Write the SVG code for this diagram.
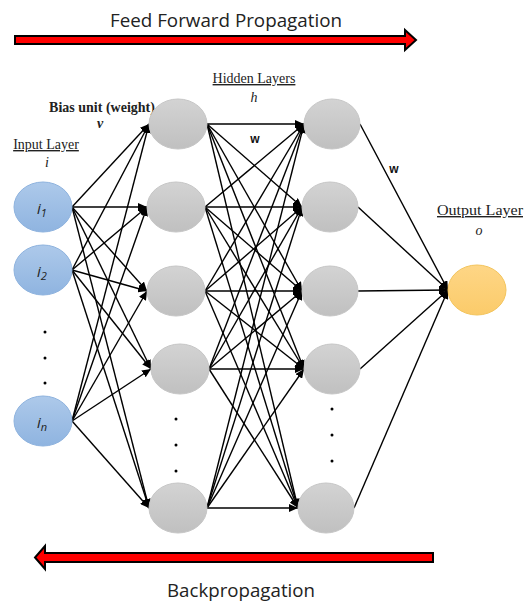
<svg xmlns="http://www.w3.org/2000/svg" width="524" height="603" viewBox="0 0 524 603">
<style>
.c{stroke:#000;stroke-width:1.4;fill:none;marker-end:url(#ah)}
.hn{fill:url(#gg);stroke:#c6c6c6;stroke-width:1}
.in{fill:url(#gb);stroke:#8db2de;stroke-width:1}
.on{fill:url(#go);stroke:#f3c45c;stroke-width:1}
.big{font-family:"Open Sans","Liberation Sans",sans-serif;font-size:18px;fill:#222}
.tm{font-family:"Liberation Serif","Times New Roman",serif;font-size:14px;fill:#222}
.ul{text-decoration:underline}
.it{font-style:italic}
.w{font-family:"Liberation Sans",Arial,sans-serif;font-weight:bold;font-size:12px;fill:#111}
.nl{font-family:"Open Sans","Liberation Sans",sans-serif;font-style:italic;font-size:15px;fill:#222}
.arr{fill:#f00;stroke:#000;stroke-width:2;stroke-linejoin:miter}
.dot{fill:#000}
</style>
<defs>
<marker id="ah" markerUnits="userSpaceOnUse" markerWidth="10" markerHeight="8" refX="9" refY="4" orient="auto">
<path d="M0,0 L9,4 L0,8 z" fill="#000"/>
</marker>
<linearGradient id="gg" x1="0" y1="0" x2="0" y2="1"><stop offset="0" stop-color="#d3d3d3"/><stop offset="1" stop-color="#c0c0c0"/></linearGradient>
<linearGradient id="gb" x1="0" y1="0" x2="0" y2="1"><stop offset="0" stop-color="#adc9ea"/><stop offset="1" stop-color="#8fb4e0"/></linearGradient>
<linearGradient id="go" x1="0" y1="0" x2="0" y2="1"><stop offset="0" stop-color="#fed686"/><stop offset="1" stop-color="#fbcb6a"/></linearGradient>
</defs>
<rect width="524" height="603" fill="#fff"/>

<g id="top-arrow">
<polygon class="arr" points="15,36 405,36 405,30 416,40 405,50 405,44 15,44"/>
<text class="big" x="226" y="27" text-anchor="middle" textLength="232" lengthAdjust="spacingAndGlyphs">Feed Forward Propagation</text>
</g>

<g id="bottom-arrow">
<polygon class="arr" points="433,553 45,553 45,546 35,557.5 45,569 45,562 433,562"/>
<text class="big" x="241" y="597" text-anchor="middle" textLength="148" lengthAdjust="spacingAndGlyphs">Backpropagation</text>
</g>

<g id="labels">
<text class="tm ul" x="254" y="83" text-anchor="middle">Hidden Layers</text>
<text class="tm it" x="254" y="102" text-anchor="middle">h</text>
<text class="tm" x="102" y="112" text-anchor="middle" font-weight="bold">Bias unit (weight)</text>
<text class="tm it" x="100" y="128" text-anchor="middle" font-weight="bold">v</text>
<text class="tm ul" x="46" y="149" text-anchor="middle">Input Layer</text>
<text class="tm it" x="47" y="167" text-anchor="middle">i</text>
<text class="tm ul" x="437" y="215" textLength="86" lengthAdjust="spacingAndGlyphs">Output  Layer</text>
<text class="tm it" x="479" y="235" text-anchor="middle">o</text>
<text class="w" x="255" y="143" text-anchor="middle">w</text>
<text class="w" x="394" y="173" text-anchor="middle">w</text>
</g>

<g id="connectors">
<line class="c" x1="72" y1="207" x2="149" y2="124"/>
<line class="c" x1="72" y1="207" x2="147" y2="207"/>
<line class="c" x1="72" y1="207" x2="147" y2="291"/>
<line class="c" x1="72" y1="207" x2="151" y2="369"/>
<line class="c" x1="72" y1="207" x2="149" y2="508"/>
<line class="c" x1="72" y1="270" x2="149" y2="124"/>
<line class="c" x1="72" y1="270" x2="147" y2="207"/>
<line class="c" x1="72" y1="270" x2="147" y2="291"/>
<line class="c" x1="72" y1="270" x2="151" y2="369"/>
<line class="c" x1="72" y1="270" x2="149" y2="508"/>
<line class="c" x1="72" y1="421" x2="149" y2="124"/>
<line class="c" x1="72" y1="421" x2="147" y2="207"/>
<line class="c" x1="72" y1="421" x2="147" y2="291"/>
<line class="c" x1="72" y1="421" x2="151" y2="369"/>
<line class="c" x1="72" y1="421" x2="149" y2="508"/>

<line class="c" x1="207" y1="124" x2="304" y2="124"/>
<line class="c" x1="207" y1="124" x2="302" y2="207"/>
<line class="c" x1="207" y1="124" x2="302" y2="291"/>
<line class="c" x1="207" y1="124" x2="304" y2="369"/>
<line class="c" x1="207" y1="124" x2="298" y2="508"/>
<line class="c" x1="205" y1="207" x2="304" y2="124"/>
<line class="c" x1="205" y1="207" x2="302" y2="207"/>
<line class="c" x1="205" y1="207" x2="302" y2="291"/>
<line class="c" x1="205" y1="207" x2="304" y2="369"/>
<line class="c" x1="205" y1="207" x2="298" y2="508"/>
<line class="c" x1="205" y1="291" x2="304" y2="124"/>
<line class="c" x1="205" y1="291" x2="302" y2="207"/>
<line class="c" x1="205" y1="291" x2="302" y2="291"/>
<line class="c" x1="205" y1="291" x2="304" y2="369"/>
<line class="c" x1="205" y1="291" x2="298" y2="508"/>
<line class="c" x1="209" y1="369" x2="304" y2="124"/>
<line class="c" x1="209" y1="369" x2="302" y2="207"/>
<line class="c" x1="209" y1="369" x2="302" y2="291"/>
<line class="c" x1="209" y1="369" x2="304" y2="369"/>
<line class="c" x1="209" y1="369" x2="298" y2="508"/>
<line class="c" x1="207" y1="508" x2="304" y2="124"/>
<line class="c" x1="207" y1="508" x2="302" y2="207"/>
<line class="c" x1="207" y1="508" x2="302" y2="291"/>
<line class="c" x1="207" y1="508" x2="304" y2="369"/>
<line class="c" x1="207" y1="508" x2="298" y2="508"/>

<line class="c" x1="360" y1="124" x2="448" y2="290"/>
<line class="c" x1="358" y1="207" x2="448" y2="290"/>
<line class="c" x1="358" y1="291" x2="448" y2="290"/>
<line class="c" x1="360" y1="369" x2="448" y2="290"/>
<line class="c" x1="354" y1="508" x2="448" y2="290"/>
</g>

<g id="input-1"><ellipse class="in" cx="43" cy="207" rx="29" ry="25"/><text class="nl" x="37" y="214">i<tspan font-size="11" dy="3">1</tspan></text></g>
<g id="input-2"><ellipse class="in" cx="43" cy="270" rx="29" ry="25"/><text class="nl" x="37" y="277">i<tspan font-size="11" dy="3">2</tspan></text></g>
<g id="input-dots"><circle class="dot" cx="45" cy="332" r="1.5"/><circle class="dot" cx="45" cy="358" r="1.5"/><circle class="dot" cx="45" cy="383" r="1.5"/></g>
<g id="input-n"><ellipse class="in" cx="43" cy="421" rx="29" ry="25"/><text class="nl" x="37" y="428">i<tspan font-size="11" dy="3">n</tspan></text></g>

<g id="hidden1-1"><ellipse class="hn" cx="178" cy="124" rx="29" ry="25"/></g>
<g id="hidden1-2"><ellipse class="hn" cx="176" cy="207" rx="29" ry="25"/></g>
<g id="hidden1-3"><ellipse class="hn" cx="176" cy="291" rx="29" ry="25"/></g>
<g id="hidden1-4"><ellipse class="hn" cx="180" cy="369" rx="29" ry="25"/></g>
<g id="hidden1-dots"><circle class="dot" cx="176" cy="419" r="1.5"/><circle class="dot" cx="176" cy="445" r="1.5"/><circle class="dot" cx="176" cy="471" r="1.5"/></g>
<g id="hidden1-n"><ellipse class="hn" cx="178" cy="508" rx="29" ry="25"/></g>

<g id="hidden2-1"><ellipse class="hn" cx="332" cy="124" rx="28" ry="25"/></g>
<g id="hidden2-2"><ellipse class="hn" cx="330" cy="207" rx="28" ry="25"/></g>
<g id="hidden2-3"><ellipse class="hn" cx="330" cy="291" rx="28" ry="25"/></g>
<g id="hidden2-4"><ellipse class="hn" cx="332" cy="369" rx="28" ry="25"/></g>
<g id="hidden2-dots"><circle class="dot" cx="332" cy="409" r="1.5"/><circle class="dot" cx="332" cy="435" r="1.5"/><circle class="dot" cx="332" cy="461" r="1.5"/></g>
<g id="hidden2-n"><ellipse class="hn" cx="326" cy="508" rx="28" ry="25"/></g>

<g id="output"><ellipse class="on" cx="477" cy="290" rx="29" ry="25"/></g>
</svg>
